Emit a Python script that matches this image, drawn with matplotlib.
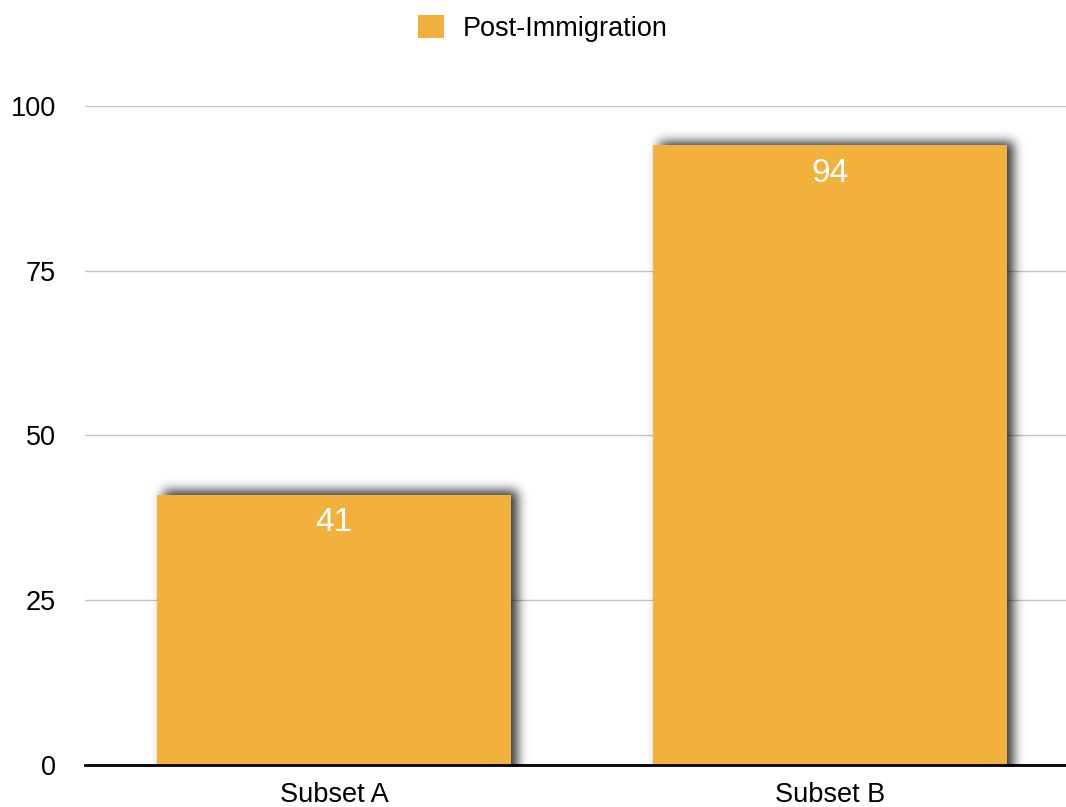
import math
import numpy as np
import matplotlib.pyplot as plt

categories = ['Subset A', 'Subset B']
values = [41, 94]
series_name = 'Post-Immigration'
y_ticks = [0, 25, 50, 75, 100]

bar_color = '#F2B13D'
plt.rcParams['font.family'] = ['Liberation Sans', 'DejaVu Sans']

fig = plt.figure(figsize=(10.66, 8.07), dpi=100)
ax = fig.add_axes([0.0797, 0.052, 0.9203, 0.8168])

x = np.arange(len(categories))
width = 0.714
ax.set_xlim(-0.502, 1.476)
ax.set_ylim(0, 100)

# pixel size in data units, used for the soft shadow
bbox = ax.get_window_extent()
px_x = (ax.get_xlim()[1] - ax.get_xlim()[0]) / bbox.width
px_y = (ax.get_ylim()[1] - ax.get_ylim()[0]) / bbox.height

bars = ax.bar(x, values, width, color=bar_color, zorder=3, label=series_name)

erf = np.vectorize(math.erf)


def soft_edge(t, lo, hi, s):
    return 0.5 * (erf((t - lo) / (s * math.sqrt(2))) - erf((t - hi) / (s * math.sqrt(2))))


for rect in bars:
    x0, w, h = rect.get_x(), rect.get_width(), rect.get_height()
    # blurred dark copy of the bar, nudged right and up
    sig = 5.5
    sx0, sx1 = x0 + 6 * px_x, x0 + w + 6 * px_x
    sy1 = h + 4 * px_y
    gx = np.linspace(x0 - 25 * px_x, x0 + w + 40 * px_x, 600)
    gy = np.linspace(0, h + 35 * px_y, 500)
    a = np.outer(soft_edge(gy, -50, sy1, sig * px_y), soft_edge(gx, sx0, sx1, sig * px_x))
    img = np.zeros((len(gy), len(gx), 4))
    img[..., 3] = 0.8 * a
    ax.imshow(img, extent=(gx[0], gx[-1], gy[0], gy[-1]), origin='lower',
              aspect='auto', zorder=2, interpolation='bilinear')
    ax.annotate('{}'.format(int(h)),
                xy=(x0 + w / 2, h), xytext=(0, -9),
                textcoords='offset points', ha='center', va='top',
                color='white', fontsize=24, zorder=4)

ax.set_xlim(-0.502, 1.476)
ax.set_ylim(0, 100)
ax.set_yticks(y_ticks)
ax.set_xticks(x)
ax.set_xticklabels(categories)
ax.tick_params(axis='both', length=0, labelsize=19.5)
ax.tick_params(axis='y', pad=21)
ax.tick_params(axis='x', pad=12)
ax.yaxis.grid(True, color='#c4c4c4', linewidth=1, zorder=0)
ax.set_axisbelow(True)
for side in ['top', 'right', 'left']:
    ax.spines[side].set_visible(False)
ax.spines['bottom'].set_linewidth(2)
ax.spines['bottom'].set_zorder(5)

fig.legend(handles=[bars], labels=[series_name], loc='upper center',
           bbox_to_anchor=(0.509, 1.012), frameon=False, fontsize=19.5,
           handlelength=0.95, handleheight=0.95, handletextpad=0.7)

plt.savefig('out.png', dpi=100)
